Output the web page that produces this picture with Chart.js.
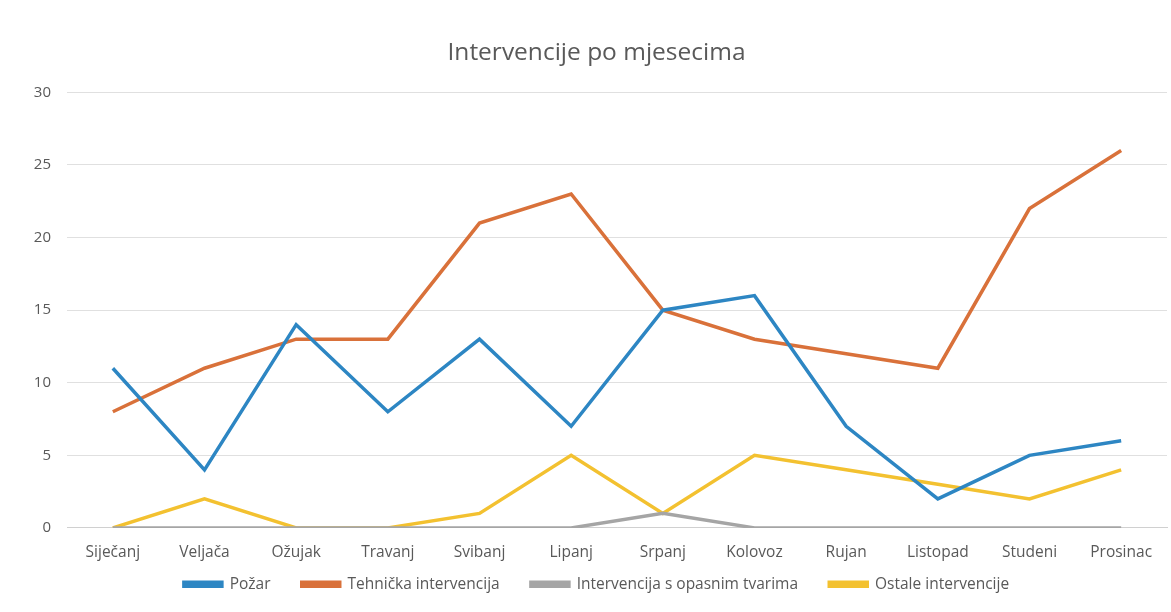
<!DOCTYPE html>
<html><head><meta charset="utf-8">
<script src="https://cdn.jsdelivr.net/npm/chart.js@4"></script>
<style>html,body{margin:0;padding:0;background:#fff}#w{width:1171px;height:612px}</style>
</head><body><div id="w"><canvas id="c"></canvas></div>
<script>
const categories = ["Siječanj","Veljača","Ožujak","Travanj","Svibanj","Lipanj","Srpanj","Kolovoz","Rujan","Listopad","Studeni","Prosinac"];
const pozar = [11,4,14,8,13,7,15,16,7,2,5,6];
const tehnicka = [8,11,13,13,21,23,15,13,12,11,22,26];
const opasneTvari = [0,0,0,0,0,0,1,0,0,0,0,0];
const ostale = [0,2,0,0,1,5,1,5,4,3,2,4];
const seriesNames = ["Požar","Tehnička intervencija","Intervencija s opasnim tvarima","Ostale intervencije"];
const colors = ["#2D86C3","#D9713A","#A5A5A5","#F3C130"];
const series = [pozar, tehnicka, opasneTvari, ostale];
const FONT = "'Open Sans', sans-serif";
new Chart(document.getElementById('c'), {
  type: 'line',
  data: {
    labels: categories,
    datasets: series.map((d,i)=>({label: seriesNames[i], data: d, borderColor: colors[i], backgroundColor: colors[i], borderWidth: 3.5, pointRadius: 0, tension: 0, fill: false}))
  },
  options: {
    responsive: true, maintainAspectRatio: false, animation: false,
    layout: {padding: {left: 26, right: 4, top: 38, bottom: 10}},
    plugins: {
      title: {display: true, text: "Intervencije po mjesecima", color: "#595959", font: {family: FONT, size: 24.5, weight: 'normal'}, padding: {top: 0, bottom: 25}},
      legend: {position: 'bottom', labels: {
        boxWidth: 38, boxHeight: 4, color: "#595959", font: {family: FONT, size: 15.5}, padding: 8,
        generateLabels: (chart) => {
          const items = Chart.defaults.plugins.legend.labels.generateLabels(chart);
          return items.map((it, i) => ({...it, text: i < items.length - 1 ? it.text + '\u2003\u2002' : it.text}));
        }
      }},
      tooltip: {enabled: false}
    },
    scales: {
      x: {offset: true, grid: {display: false}, border: {color: "#d0d0d0"}, ticks: {color: "#595959", font: {family: FONT, size: 15.5}, padding: 7}},
      y: {min: 0, max: 30, afterFit: (s) => { s.width = 41; }, ticks: {stepSize: 5, color: "#595959", font: {family: FONT, size: 15}, padding: 16}, grid: {color: "#e0e0e0", drawTicks: false}, border: {display: false}}
    }
  }
});
</script></body></html>
